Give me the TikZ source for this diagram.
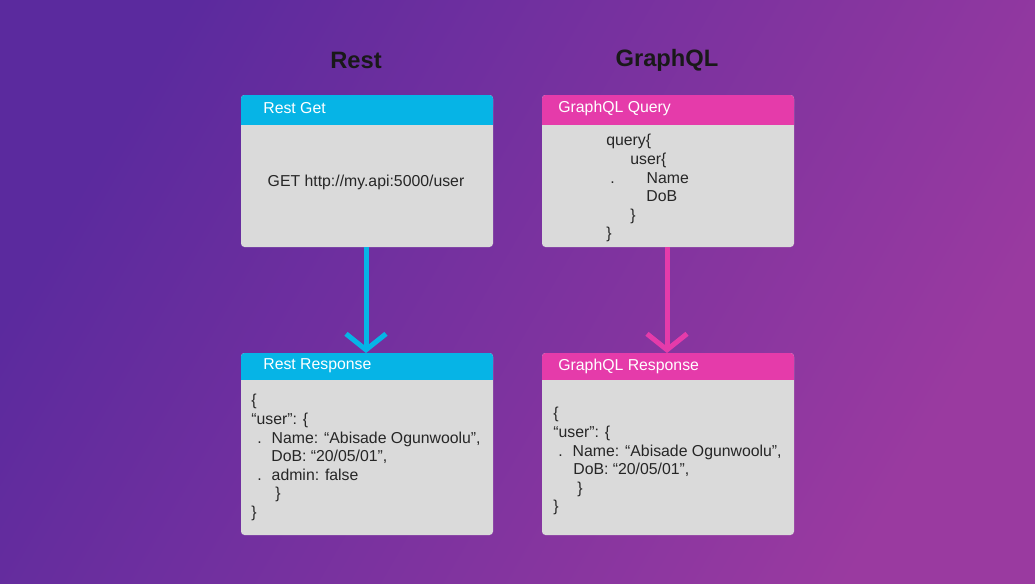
\documentclass[tikz,border=0pt]{standalone}
\usepackage{fontspec}
\setmainfont{Liberation Sans}
\usetikzlibrary{arrows.meta,positioning}
\definecolor{restblue}{HTML}{06B4E6}
\definecolor{gqlpink}{HTML}{E53BAA}
\definecolor{boxgray}{HTML}{DADADA}
\definecolor{bgtop}{HTML}{5B2A9E}
\definecolor{bgbot}{HTML}{9A3AA0}
\tikzset{
  label/.style={anchor=west, inner sep=0pt, text=white, font=\fontsize{9}{11}\selectfont},
  body/.style={fill=boxgray, rounded corners=2pt},
  code/.style={anchor=north west, align=left, inner sep=0pt, text=black!85,
    font=\fontsize{9}{10.6}\selectfont},
  title/.style={font=\bfseries\fontsize{13.5}{15}\selectfont, text=black!90},
  flow/.style={line width=0.1cm, -{Straight Barb[length=0.32cm,width=0.8cm,line width=0.1cm]}}
}
\begin{document}
\begin{tikzpicture}[x=0.02cm,y=-0.02cm]
  \shade[top color=bgtop, bottom color=bgbot, shading angle=60] (0,0) rectangle (1035,583);
  \useasboundingbox (0,0) rectangle (1035,583);
  % titles
  \node[title] (restT) at (356,60) {Rest};
  \node[title] (gqlT) at (667,60) {GraphQL};
  % rest get
  \fill[body] (241,95) rectangle (493,247);
  \fill[restblue, rounded corners=2pt] (241,110) rectangle (493,95);
  \fill[restblue] (241,105) rectangle (493,125);
  \node[label] (getH) at (263,108) {Rest Get};
  \node[font=\fontsize{9}{11}\selectfont, text=black!85] (getB) at (366,182) {GET http://my.api:5000/user};
  \coordinate (getS) at (366,247);
  % graphql query
  \fill[body] (542,95) rectangle (794,247);
  \fill[gqlpink, rounded corners=2pt] (542,110) rectangle (794,95);
  \fill[gqlpink] (542,105) rectangle (794,125);
  \node[label] (qryH) at (558,108) {GraphQL Query};
  \node[code] (qryB) at (606,134) {query\{\\
    \hspace*{0.48cm}user\{\\
    \hspace*{0.08cm}.\hspace*{0.64cm}Name\\
    \hspace*{0.8cm}DoB\\
    \hspace*{0.48cm}\}\\
    \}};
  \coordinate (qryS) at (667,247);
  % rest response
  \fill[body] (241,353) rectangle (493,535);
  \fill[restblue, rounded corners=2pt] (241,368) rectangle (493,353);
  \fill[restblue] (241,363) rectangle (493,380);
  \node[label] (resH) at (263,366) {Rest Response};
  \node[code] (resB) at (251,394) {\{\\
    “user”: \{\\
    \hspace*{0.12cm}.\hspace*{0.2cm}Name: “Abisade Ogunwoolu”,\\
    \hspace*{0.4cm}DoB: “20/05/01”,\\
    \hspace*{0.12cm}.\hspace*{0.2cm}admin: false\\
    \hspace*{0.48cm}\}\\
    \}};
  \coordinate (resN) at (366,353);
  % graphql response
  \fill[body] (542,353) rectangle (794,535);
  \fill[gqlpink, rounded corners=2pt] (542,368) rectangle (794,353);
  \fill[gqlpink] (542,363) rectangle (794,380);
  \node[label] (gresH) at (558,366) {GraphQL Response};
  \node[code] (gresB) at (553,407) {\{\\
    “user”: \{\\
    \hspace*{0.1cm}.\hspace*{0.2cm}Name: “Abisade Ogunwoolu”,\\
    \hspace*{0.4cm}DoB: “20/05/01”,\\
    \hspace*{0.48cm}\}\\
    \}};
  \coordinate (gresN) at (667,353);
  % arrows
  \draw[flow, restblue] (getS) -- (resN);
  \draw[flow, gqlpink] (qryS) -- (gresN);
\end{tikzpicture}
\end{document}
